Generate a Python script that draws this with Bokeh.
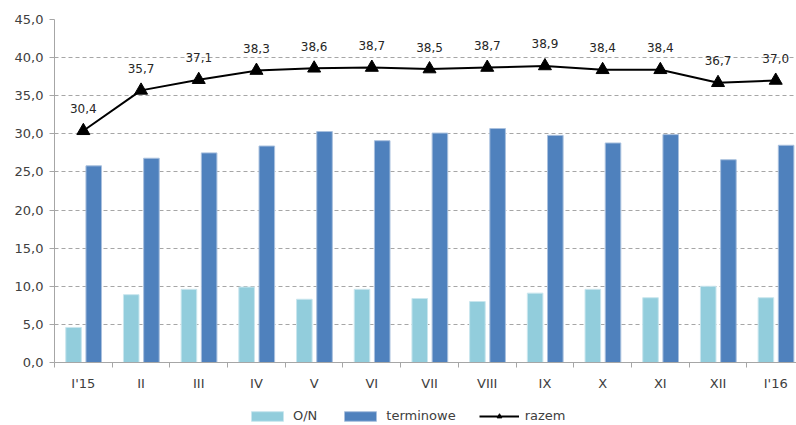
from bokeh.plotting import figure
from bokeh.layouts import column
from bokeh.models import (ColumnDataSource, Range1d, FixedTicker, Legend, LegendItem)
from bokeh.core.properties import value
from bokeh.embed import file_html
from bokeh.resources import INLINE

# Monthly data (bn), comma decimal labels
months = ["I'15", "II", "III", "IV", "V", "VI", "VII", "VIII", "IX", "X", "XI", "XII", "I'16"]
on_vals = [4.6, 8.9, 9.6, 9.9, 8.3, 9.6, 8.4, 8.0, 9.1, 9.6, 8.5, 10.0, 8.5]
term_vals = [25.8, 26.8, 27.5, 28.4, 30.3, 29.1, 30.1, 30.7, 29.8, 28.8, 29.9, 26.6, 28.5]
total_vals = [30.4, 35.7, 37.1, 38.3, 38.6, 38.7, 38.5, 38.7, 38.9, 38.4, 38.4, 36.7, 37.0]
y_ticks = [0, 5, 10, 15, 20, 25, 30, 35, 40, 45]

FONT = "DejaVu Sans"
TEXT_COLOR = "#404040"
GRID_COLOR = "#a6a6a6"
ON_FILL, ON_EDGE = "#92cddc", "#c9e6ee"
TERM_FILL, TERM_EDGE = "#4f81bd", "#a9c0de"

xs = list(range(len(months)))
src = ColumnDataSource(dict(
    x=xs,
    x_on=[x - 0.17 for x in xs],
    x_term=[x + 0.18 for x in xs],
    on=on_vals,
    term=term_vals,
    total=total_vals,
    total_lbl=[f"{v:.1f}".replace(".", ",") for v in total_vals],
))

p = figure(width=796, height=398, output_backend="svg", toolbar_location=None,
           x_range=Range1d(-0.5, 12.36), y_range=Range1d(0, 45),
           min_border_left=54, min_border_right=0, min_border_top=19,
           min_border_bottom=36)
p.outline_line_color = None
p.background_fill_color = "white"

# bars
p.vbar(x="x_on", top="on", width=0.27, source=src,
       fill_color=ON_FILL, line_color=ON_EDGE, line_width=1)
p.vbar(x="x_term", top="term", width=0.27, source=src,
       fill_color=TERM_FILL, line_color=TERM_EDGE, line_width=1)

# total line with triangle markers
p.line(x="x", y="total", source=src, line_color="black", line_width=2)
p.scatter(x="x", y="total", source=src, marker="triangle", size=13,
          fill_color="black", line_color="black")
p.text(x="x", y="total", text="total_lbl", source=src, text_align="center",
       text_baseline="middle", y_offset=-22, text_font=value(FONT),
       text_font_size="12px", text_color="#262626")

# y axis
p.yaxis.ticker = FixedTicker(ticks=y_ticks)
p.yaxis.major_label_overrides = {t: f"{t:.1f}".replace(".", ",") for t in y_ticks}
p.yaxis.axis_line_color = GRID_COLOR
p.yaxis.major_tick_line_color = GRID_COLOR
p.yaxis.major_tick_in = 0
p.yaxis.major_tick_out = 5
p.yaxis.minor_tick_line_color = None
p.yaxis.major_label_text_font = FONT
p.yaxis.major_label_text_font_size = "13px"
p.yaxis.major_label_text_color = TEXT_COLOR
p.yaxis.major_label_standoff = 6

# x axis: labels at category centres, tick marks at boundaries
p.xaxis.ticker = FixedTicker(ticks=xs, minor_ticks=[x - 0.5 for x in range(len(months) + 1)])
p.xaxis.major_label_overrides = {x: m for x, m in zip(xs, months)}
p.xaxis.axis_line_color = GRID_COLOR
p.xaxis.major_tick_line_color = None
p.xaxis.minor_tick_line_color = GRID_COLOR
p.xaxis.minor_tick_in = 0
p.xaxis.minor_tick_out = 5
p.xaxis.major_label_text_font = FONT
p.xaxis.major_label_text_font_size = "13px"
p.xaxis.major_label_text_color = TEXT_COLOR
p.xaxis.major_label_standoff = 7

p.xgrid.grid_line_color = None
p.ygrid.grid_line_color = GRID_COLOR
p.ygrid.grid_line_dash = "4 3"

# legend strip underneath the chart; its key glyphs sit outside the visible range
lg = figure(width=796, height=27, output_backend="svg", toolbar_location=None,
            x_range=Range1d(0, 1), y_range=Range1d(0, 1),
            min_border=0, x_axis_location=None, y_axis_location=None)
lg.outline_line_color = None
lg.xgrid.grid_line_color = None
lg.ygrid.grid_line_color = None
k_on = lg.vbar(x=[-5], top=[-5], width=0.1, fill_color=ON_FILL, line_color=ON_EDGE)
k_term = lg.vbar(x=[-5], top=[-5], width=0.1, fill_color=TERM_FILL, line_color=TERM_EDGE)
k_line = lg.line(x=[-5, -4], y=[-5, -5], line_color="black", line_width=2)
k_pts = lg.scatter(x=[-5], y=[-5], marker="triangle", size=13,
                   fill_color="black", line_color="black")

legend = Legend(items=[
    LegendItem(label="O/N", renderers=[k_on]),
    LegendItem(label="terminowe", renderers=[k_term]),
    LegendItem(label="razem", renderers=[k_line, k_pts]),
], orientation="horizontal", location=(193, 2), padding=0, margin=0,
    spacing=23, glyph_width=40, glyph_height=12, label_height=12,
    label_standoff=6, border_line_color=None, background_fill_alpha=0,
    label_text_font=FONT, label_text_font_size="13px",
    label_text_color=TEXT_COLOR)
lg.add_layout(legend, "center")

open("out.html", "w").write(file_html(column(p, lg, spacing=0), INLINE))
